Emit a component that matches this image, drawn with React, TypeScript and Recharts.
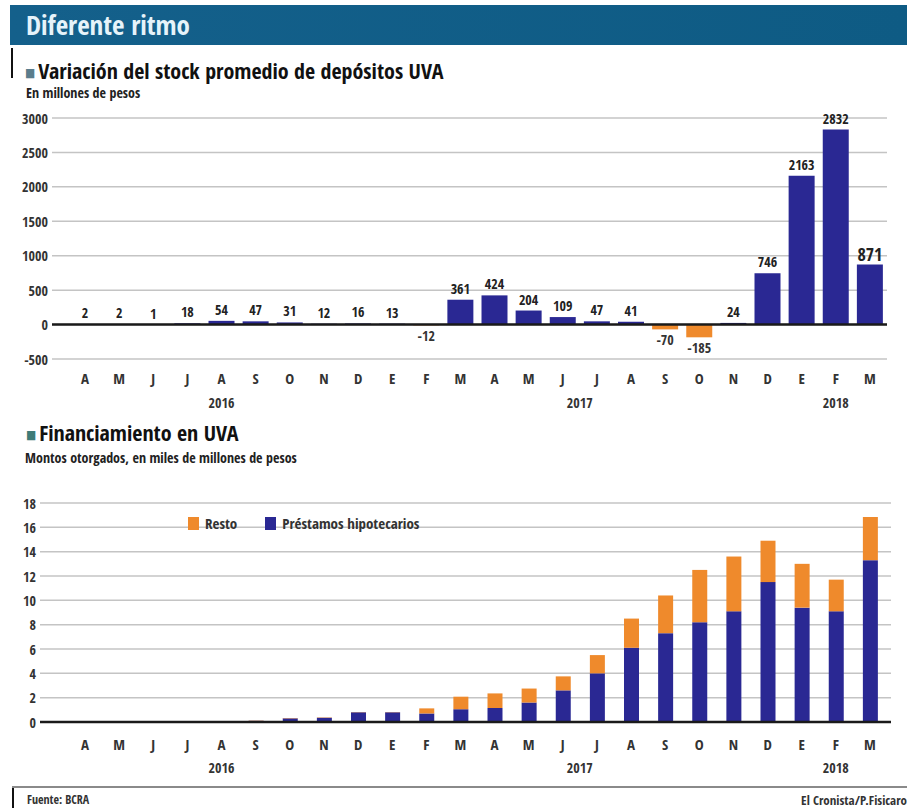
import React from 'react';
import { BarChart, Bar, XAxis, YAxis, CartesianGrid, ReferenceLine, LabelList, Cell, Legend } from 'recharts';

const FONT = "'Open Sans Condensed','Liberation Sans Narrow','DejaVu Sans Condensed','Open Sans',sans-serif";
const ST = { fontStretch: 'condensed' as const };

// Categories (April 2016 .. March 2018)
const monthKeys = ['2016-04','2016-05','2016-06','2016-07','2016-08','2016-09','2016-10','2016-11','2016-12','2017-01','2017-02','2017-03','2017-04','2017-05','2017-06','2017-07','2017-08','2017-09','2017-10','2017-11','2017-12','2018-01','2018-02','2018-03'];
const monthLabels = ['A','M','J','J','A','S','O','N','D','E','F','M','A','M','J','J','A','S','O','N','D','E','F','M'];
const yearLabels = ['','','','','2016','','','','','','','','','','2017','','','','','','','','2018',''];

// Top chart: variación del stock promedio de depósitos UVA (millones de pesos)
const depositVariation = [2,2,1,18,54,47,31,12,16,13,-12,361,424,204,109,47,41,-70,-185,24,746,2163,2832,871];
const topTicks = [-500,0,500,1000,1500,2000,2500,3000];

// Bottom chart: financiamiento en UVA (miles de millones de pesos)
const prestamos = [0,0,0,0,0.04,0.1,0.3,0.35,0.8,0.8,0.7,1.05,1.15,1.6,2.6,4.0,6.1,7.3,8.2,9.1,11.5,9.4,9.1,13.3];
const resto = [0,0,0,0,0.01,0.02,0.03,0.03,0.02,0.02,0.42,1.03,1.2,1.15,1.15,1.5,2.4,3.1,4.3,4.5,3.4,3.6,2.6,3.55];
const bottomTicks = [0,2,4,6,8,10,12,14,16,18];

const NAVY = '#2a2893';
const ORANGE = '#ef8a2c';

const topData = monthKeys.map((k, i) => ({ key: k, value: depositVariation[i] }));
const bottomData = monthKeys.map((k, i) => ({ key: k, prestamos: prestamos[i], resto: resto[i] }));

const MonthTick = (props: any) => {
  const { x, y, payload, monthDy, yearDy } = props;
  const idx = payload.index;
  const yr = yearLabels[idx];
  const yrShift = yr === '2017' ? 17 : 0;
  return (
    <g>
      <text x={x} y={y + monthDy} textAnchor="middle" dominantBaseline="central" fontFamily={FONT} style={ST} fontSize={15} fontWeight="bold" fill="#333">
        {monthLabels[idx]}
      </text>
      {yr ? (
        <text x={x + yrShift} y={y + yearDy} textAnchor="middle" dominantBaseline="central" fontFamily={FONT} style={ST} fontSize={14} fontWeight="bold" fill="#333">
          {yr}
        </text>
      ) : null}
    </g>
  );
};

const YTick = (props: any) => {
  const { x, y, payload } = props;
  return (
    <text x={x} y={y} textAnchor="end" dominantBaseline="central" fontFamily={FONT} style={ST} fontSize={14} fontWeight="bold" fill="#333">
      {payload.value}
    </text>
  );
};

const ValueLabel = (props: any) => {
  const { x, y, width, height, value } = props;
  const top = Math.min(y, y + height);
  const bottom = Math.max(y, y + height);
  const cx = x + width / 2;
  const big = value === 871;
  if (value < 0) {
    return (
      <text x={cx} y={bottom + 4} textAnchor="middle" dominantBaseline="hanging" fontFamily={FONT} style={ST} fontSize={14} fontWeight="bold" fill="#333">
        {value}
      </text>
    );
  }
  return (
    <text x={cx} y={top - (big ? 4 : 6)} textAnchor="middle" fontFamily={FONT} style={ST} fontSize={big ? 18 : 14} fontWeight="bold" fill="#222">
      {value}
    </text>
  );
};

const LegendContent = () => (
  <div style={{ display: 'flex', alignItems: 'center', fontFamily: FONT, fontStretch: 'condensed', fontSize: 15, color: '#333' }}>
    <span style={{ display: 'inline-block', width: 11, height: 13, background: ORANGE, marginRight: 6 }} />
    <span style={{ marginRight: 28 }}>Resto</span>
    <span style={{ display: 'inline-block', width: 11, height: 13, background: NAVY, marginRight: 6 }} />
    <span>Préstamos hipotecarios</span>
  </div>
);

export default function App() {
  return (
    <div style={{ position: 'absolute', left: 0, top: 0, width: 907, height: 808, background: '#fff', overflow: 'hidden', fontFamily: FONT, fontStretch: 'condensed' }}>
      {/* Title band */}
      <div style={{ position: 'absolute', left: 10, top: 5, width: 897, height: 40, background: 'linear-gradient(90deg,#14608b,#0e5b84)' }}>
        <div style={{ position: 'absolute', left: 16, top: 0, lineHeight: '40px', fontSize: 27, fontWeight: 'bold', color: '#e6f3fa' }}>
          Diferente ritmo
        </div>
      </div>
      <div style={{ position: 'absolute', left: 11, top: 48, width: 2, height: 30, background: '#111' }} />

      {/* Section 1 header */}
      <div style={{ position: 'absolute', left: 25, top: 59, height: 22, lineHeight: '22px', fontSize: 22, color: '#111', whiteSpace: 'nowrap' }}>
        <span style={{ fontSize: 12, color: '#5b7d8c', marginRight: 3, verticalAlign: 'middle' }}>■</span>
        Variación del stock promedio de depósitos UVA
      </div>
      <div style={{ position: 'absolute', left: 26, top: 86, height: 13, lineHeight: '13px', fontSize: 14, color: '#222', whiteSpace: 'nowrap' }}>
        En millones de pesos
      </div>

      {/* Top chart */}
      <div style={{ position: 'absolute', left: 0, top: 100 }}>
        <BarChart width={907} height={320} data={topData} margin={{ top: 18, right: 20, bottom: 1, left: 0 }} barSize={26}>
          <CartesianGrid vertical={false} stroke="#c4c4c4" strokeWidth={1.5} />
          <XAxis dataKey="key" axisLine={false} tickLine={false} tickSize={0} tickMargin={0} height={60} interval={0} padding={{ left: 16, right: 0 }}
            tick={(p: any) => <MonthTick {...p} monthDy={19} yearDy={43} />} />
          <YAxis width={52} domain={[-500, 3000]} ticks={topTicks} axisLine={false} tickLine={false} tickSize={0} tickMargin={4} tick={<YTick />} interval={0} />
          <Bar dataKey="value" isAnimationActive={false}>
            {topData.map((d, i) => (
              <Cell key={i} fill={d.value < 0 ? ORANGE : NAVY} />
            ))}
            <LabelList dataKey="value" content={<ValueLabel />} />
          </Bar>
          <ReferenceLine y={0} stroke="#1a1a1a" strokeWidth={2.5} />
        </BarChart>
      </div>

      {/* Section 2 header */}
      <div style={{ position: 'absolute', left: 26, top: 421, height: 22, lineHeight: '22px', fontSize: 22, color: '#111', whiteSpace: 'nowrap' }}>
        <span style={{ fontSize: 12, color: '#3e7c78', marginRight: 3, verticalAlign: 'middle' }}>■</span>
        Financiamiento en UVA
      </div>
      <div style={{ position: 'absolute', left: 25, top: 451, height: 13, lineHeight: '13px', fontSize: 14, color: '#222', whiteSpace: 'nowrap' }}>
        Montos otorgados, en miles de millones de pesos
      </div>

      {/* Bottom chart */}
      <div style={{ position: 'absolute', left: 0, top: 470 }}>
        <BarChart width={907} height={320} data={bottomData} margin={{ top: 13, right: 16, bottom: 8, left: 0 }} barSize={15}>
          <CartesianGrid vertical={false} stroke="#c4c4c4" strokeWidth={1.5} />
          <XAxis dataKey="key" axisLine={false} tickLine={false} tickSize={0} tickMargin={0} height={60} interval={0} padding={{ left: 28, right: 4 }}
            tick={(p: any) => <MonthTick {...p} monthDy={22} yearDy={45} />} />
          <YAxis width={40} domain={[0, 18]} ticks={bottomTicks} axisLine={false} tickLine={false} tickSize={0} tickMargin={4} tick={<YTick />} interval={0} />
          <Legend verticalAlign="top" align="left" content={<LegendContent />} wrapperStyle={{ position: 'absolute', left: 188, top: 43, width: 300 }} />
          <Bar dataKey="prestamos" name="Préstamos hipotecarios" stackId="a" fill={NAVY} isAnimationActive={false} />
          <Bar dataKey="resto" name="Resto" stackId="a" fill={ORANGE} isAnimationActive={false} />
          <ReferenceLine y={0} stroke="#1a1a1a" strokeWidth={2.5} />
        </BarChart>
      </div>

      {/* Footer */}
      <div style={{ position: 'absolute', left: 12, top: 786, width: 895, height: 2, background: '#8a8a8a' }} />
      <div style={{ position: 'absolute', left: 12, top: 788, width: 2, height: 20, background: '#111' }} />
      <div style={{ position: 'absolute', left: 27, top: 792, lineHeight: '16px', fontSize: 12, color: '#333', whiteSpace: 'nowrap' }}>
        Fuente: <b>BCRA</b>
      </div>
      <div style={{ position: 'absolute', right: 0, top: 792, lineHeight: '16px', fontSize: 13, fontWeight: 'bold', color: '#333', whiteSpace: 'nowrap' }}>
        El Cronista/P.Fisicaro
      </div>
    </div>
  );
}
